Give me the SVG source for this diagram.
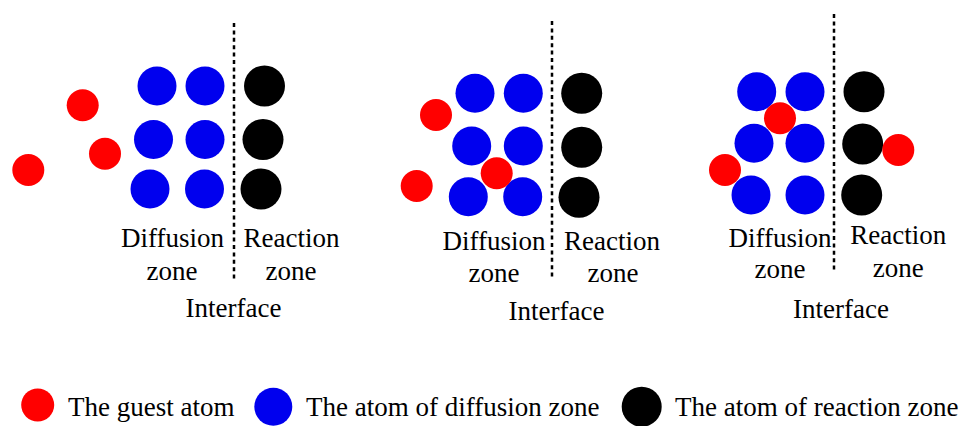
<svg xmlns="http://www.w3.org/2000/svg" width="962" height="426" viewBox="0 0 962 426">
<style>
.g{fill:#ff0000}
.b{fill:#0000ee}
.k{fill:#000}
.t{font-family:"Liberation Serif","Times New Roman",serif;font-size:27px;fill:#000;text-anchor:middle}
.lt{font-family:"Liberation Serif","Times New Roman",serif;font-size:27px;fill:#000}
.d{stroke:#000;stroke-width:2.5;stroke-dasharray:4 3.4;fill:none}
</style>
<rect width="962" height="426" fill="#fff"/>
<g id="connectors">
<line class="d" x1="234" y1="23" x2="234" y2="280"/>
<line class="d" x1="552" y1="21" x2="552" y2="278"/>
<line class="d" x1="834" y1="14" x2="834" y2="270"/>
</g>
<g id="panel1">
<circle class="b" cx="157" cy="86" r="19.5"/>
<circle class="b" cx="205" cy="86" r="19.5"/>
<circle class="b" cx="153.5" cy="139.5" r="19.5"/>
<circle class="b" cx="205" cy="139.5" r="19.5"/>
<circle class="b" cx="150" cy="189" r="19.5"/>
<circle class="b" cx="204.5" cy="189" r="19.5"/>
<circle class="k" cx="264.5" cy="86" r="20.5"/>
<circle class="k" cx="263" cy="139.5" r="20.5"/>
<circle class="k" cx="261" cy="189" r="20.5"/>
<circle class="g" cx="82.7" cy="105.3" r="16"/>
<circle class="g" cx="105" cy="153.7" r="16"/>
<circle class="g" cx="28.3" cy="170" r="16"/>
<text class="t" x="172.5" y="247">Diffusion</text>
<text class="t" x="172" y="280">zone</text>
<text class="t" x="291.5" y="247">Reaction</text>
<text class="t" x="291" y="280">zone</text>
<text class="t" x="233.5" y="317">Interface</text>
</g>
<g id="panel2">
<circle class="b" cx="475" cy="93.3" r="19.5"/>
<circle class="b" cx="523.3" cy="93.3" r="19.5"/>
<circle class="b" cx="471.7" cy="146" r="19.5"/>
<circle class="b" cx="523.3" cy="146" r="19.5"/>
<circle class="b" cx="468.3" cy="196.7" r="19.5"/>
<circle class="b" cx="522.7" cy="196.7" r="19.5"/>
<circle class="k" cx="581.7" cy="93.3" r="20.5"/>
<circle class="k" cx="581.7" cy="147.3" r="20.5"/>
<circle class="k" cx="579" cy="197.3" r="20.5"/>
<circle class="g" cx="436" cy="115" r="16"/>
<circle class="g" cx="416.7" cy="186" r="16"/>
<circle class="g" cx="496.7" cy="173.3" r="16"/>
<text class="t" x="494" y="250">Diffusion</text>
<text class="t" x="494" y="282">zone</text>
<text class="t" x="612" y="250">Reaction</text>
<text class="t" x="613" y="282">zone</text>
<text class="t" x="556.5" y="320">Interface</text>
</g>
<g id="panel3">
<circle class="b" cx="756.7" cy="91.7" r="19.5"/>
<circle class="b" cx="805" cy="91.7" r="19.5"/>
<circle class="b" cx="754" cy="143.3" r="19.5"/>
<circle class="b" cx="805" cy="143.3" r="19.5"/>
<circle class="b" cx="751" cy="195" r="19.5"/>
<circle class="b" cx="805" cy="195" r="19.5"/>
<circle class="k" cx="864" cy="91.7" r="20.5"/>
<circle class="k" cx="862.7" cy="144" r="20.5"/>
<circle class="k" cx="861.7" cy="195" r="20.5"/>
<circle class="g" cx="780" cy="118.3" r="16"/>
<circle class="g" cx="725" cy="170" r="16"/>
<circle class="g" cx="898.3" cy="150" r="16"/>
<text class="t" x="780" y="247">Diffusion</text>
<text class="t" x="780" y="278">zone</text>
<text class="t" x="898.3" y="244">Reaction</text>
<text class="t" x="898.3" y="277">zone</text>
<text class="t" x="841" y="318">Interface</text>
</g>
<g id="legend">
<circle class="g" cx="37.7" cy="405" r="16.5"/>
<text class="lt" x="68" y="415.5">The guest atom</text>
<circle class="b" cx="273.3" cy="406.7" r="19"/>
<text class="lt" x="306" y="416">The atom of diffusion zone</text>
<circle class="k" cx="641.7" cy="406.7" r="20"/>
<text class="lt" x="675" y="416">The atom of reaction zone</text>
</g>
</svg>
